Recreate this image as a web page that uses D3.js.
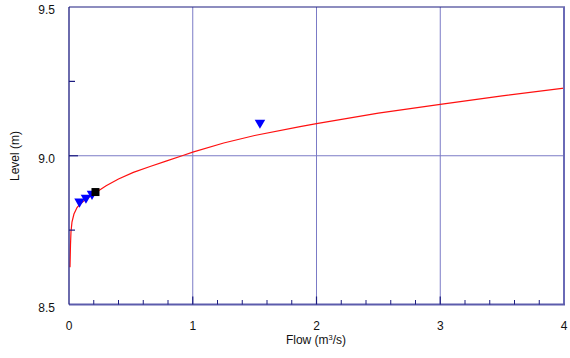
<!DOCTYPE html>
<html><head><meta charset="utf-8">
<script src="https://cdn.jsdelivr.net/npm/d3@7"></script>
<style>body{margin:0;background:#fff}svg{display:block}text{font-family:"Liberation Sans",Arial,sans-serif;fill:#111}</style>
</head><body><svg id="c" width="570" height="358"></svg>
<script>
// Rating curve (flow m3/s, level m)
const curveFlow  = [0.008,0.012,0.016,0.024,0.04,0.065,0.09,0.14,0.214,0.3,0.4,0.52,0.655,0.79,0.92,1.0,1.25,1.5,1.867,2.0,2.5,3.0,3.5,4.0];
const curveLevel = [8.625,8.70,8.744,8.777,8.804,8.826,8.838,8.855,8.876,8.899,8.922,8.944,8.964,8.983,9.001,9.012,9.043,9.068,9.098,9.108,9.143,9.173,9.201,9.227];
// Gaugings (triangles)
const gaugeFlow  = [0.085,0.137,0.186,1.543];
const gaugeLevel = [8.846,8.859,8.872,9.111];
// Highlighted point (square)
const sqFlow  = [0.214];
const sqLevel = [8.878];
const xTicks = [0,1,2,3,4];
const yTicks = [8.5,9.0,9.5];

const svg = d3.select("#c");
const L=69, R=564, T=7, B=304.5;
const x = d3.scaleLinear().domain([0,4]).range([L,R]);
const y = d3.scaleLinear().domain([8.5,9.5]).range([B,T]);
const grid="#7b7bc6", navy="#1c1c80";

// gridlines
svg.append("g").selectAll("line").data([1,2,3]).join("line")
  .attr("x1",d=>x(d)).attr("x2",d=>x(d)).attr("y1",T).attr("y2",B)
  .attr("stroke",grid).attr("stroke-width",1);
svg.append("line").attr("x1",L).attr("x2",R).attr("y1",y(9.0)).attr("y2",y(9.0))
  .attr("stroke",grid).attr("stroke-width",1);

// curve
const pts = curveFlow.map((q,i)=>[q,curveLevel[i]]);
svg.append("path").datum(pts)
  .attr("d",d3.line().x(d=>x(d[0])).y(d=>y(d[1])))
  .attr("fill","none").attr("stroke","#ff1010").attr("stroke-width",1.2);

// frame
svg.append("line").attr("x1",L).attr("x2",R+1).attr("y1",T).attr("y2",T).attr("stroke",navy).attr("stroke-width",1.2);
svg.append("line").attr("x1",R).attr("x2",R).attr("y1",T).attr("y2",B).attr("stroke","#6a6ab6").attr("stroke-width",2);
svg.append("line").attr("x1",L).attr("x2",R+1).attr("y1",B).attr("y2",B).attr("stroke","#5c5cac").attr("stroke-width",2);
svg.append("line").attr("x1",L).attr("x2",L).attr("y1",T).attr("y2",B).attr("stroke",navy).attr("stroke-width",1.3);

// x axis ticks (inward)
const minor = d3.range(1,20).map(i=>i*0.2).filter(v=>Math.abs(v-Math.round(v))>1e-6);
svg.append("g").selectAll("line").data(minor).join("line")
  .attr("x1",d=>x(d)).attr("x2",d=>x(d)).attr("y1",B).attr("y2",B-4.5)
  .attr("stroke",navy).attr("stroke-width",1);
svg.append("g").selectAll("line").data([1,2,3]).join("line")
  .attr("x1",d=>x(d)).attr("x2",d=>x(d)).attr("y1",B).attr("y2",B-8)
  .attr("stroke",navy).attr("stroke-width",1.2);
// y axis ticks
svg.append("g").selectAll("line").data([8.75,9.25]).join("line")
  .attr("x1",L).attr("x2",L+6).attr("y1",d=>y(d)).attr("y2",d=>y(d))
  .attr("stroke",navy).attr("stroke-width",1.2);
svg.append("line").attr("x1",L).attr("x2",L+9).attr("y1",y(9.0)).attr("y2",y(9.0))
  .attr("stroke",navy).attr("stroke-width",1.2);

// tick labels
svg.append("g").selectAll("text").data(xTicks).join("text")
  .attr("x",d=>x(d)).attr("y",330).attr("text-anchor","middle")
  .attr("font-size",12).text(d=>d3.format("d")(d));
svg.append("g").selectAll("text").data(yTicks).join("text")
  .attr("x",55).attr("y",d=>y(d)+7.3).attr("text-anchor","end")
  .attr("font-size",12).text(d=>d3.format(".1f")(d));

// axis titles
const xt = svg.append("text").attr("x",316).attr("y",344).attr("text-anchor","middle").attr("font-size",12);
xt.append("tspan").text("Flow (m");
xt.append("tspan").attr("font-size",7.5).attr("dy",-4.5).text("3");
xt.append("tspan").attr("dy",4.5).text("/s)");
svg.append("text").attr("transform","translate(19,156) rotate(-90)")
  .attr("text-anchor","middle").attr("font-size",12).text("Level (m)");

// markers
const tri = d3.symbol().type(d3.symbolTriangle).size(48);
svg.append("g").selectAll("path").data(gaugeFlow.map((q,i)=>[q,gaugeLevel[i]])).join("path")
  .attr("d",tri).attr("transform",d=>`translate(${x(d[0])},${y(d[1])}) rotate(180)`)
  .attr("fill","#0000ff");
svg.append("g").selectAll("rect").data(sqFlow.map((q,i)=>[q,sqLevel[i]])).join("rect")
  .attr("x",d=>x(d[0])-4).attr("y",d=>y(d[1])-4).attr("width",8).attr("height",8)
  .attr("fill","#000");
</script></body></html>
